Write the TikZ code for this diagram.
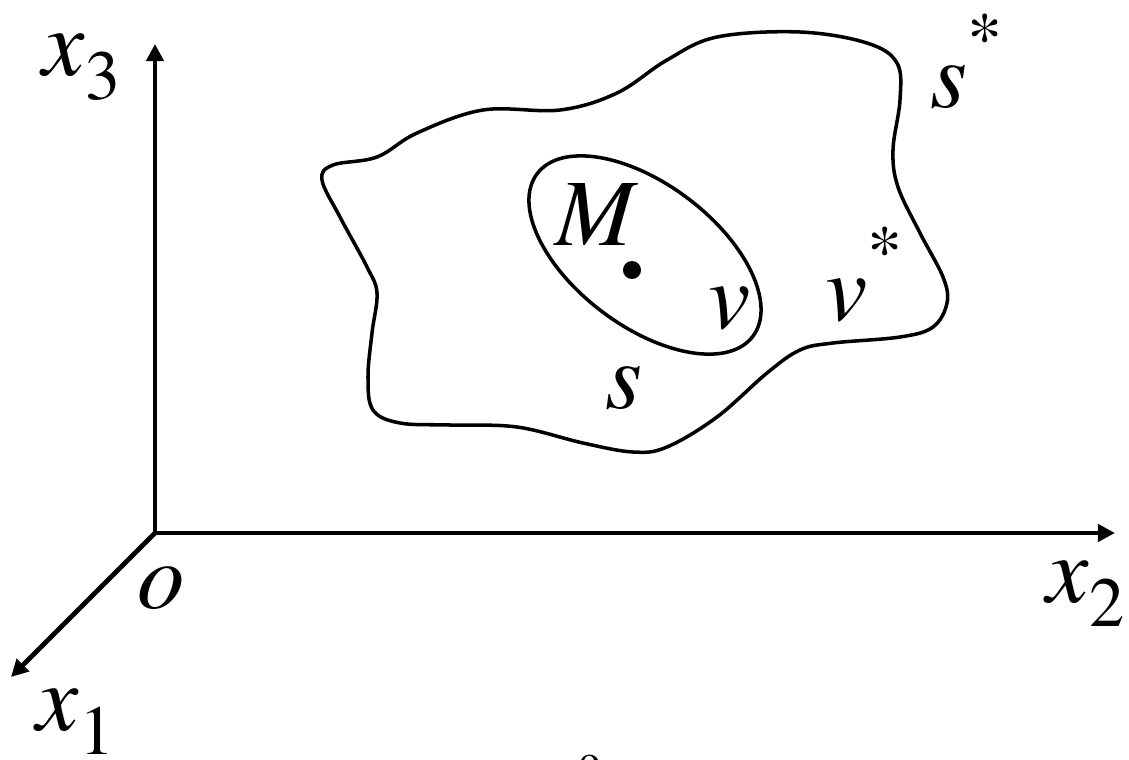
\documentclass[tikz,border=0pt]{standalone}
\usepackage{fontspec}
\IfFontExistsTF{texgyretermes-regular.otf}
  {\setmainfont{texgyretermes}[Extension=.otf,UprightFont=*-regular,ItalicFont=*-italic,BoldFont=*-bold]}
  {\setmainfont{Liberation Serif}[AutoFakeSlant=0.2]}
\usetikzlibrary{arrows.meta}
\newcommand{\sublab}[2]{\textit{#1}\raisebox{-0.26em}{\fontsize{20}{20}\selectfont #2}}
\newcommand{\starlab}[1]{\textit{#1}\raisebox{0.48em}{\fontsize{20}{20}\selectfont *}}
\tikzset{
  axis/.style={line width=1.4pt,-{Triangle[length=0.17cm,width=0.17cm]}},
  contour/.style={line width=1pt},
  lab/.style={inner sep=0pt,anchor=base west,font=\fontsize{27}{30}\selectfont}
}
\begin{document}
\begin{tikzpicture}[x=0.01cm,y=-0.01cm]
    \useasboundingbox (0,0) rectangle (1129,760);
    % ---- axes ----
    \coordinate (O) at (155,533);
    \coordinate (e1) at (11,677);
    \coordinate (e2) at (1115,533);
    \coordinate (e3) at (155,44);
    \draw[axis] (O) -- (e1);
    \draw[axis] (O) -- (e2);
    \draw[axis] (O) -- (e3);
    \node[lab] (x3) at (42,75) {\sublab{x}{3}};
    \node[lab] (x2) at (1046,602) {\sublab{x}{2}};
    \node[lab] (x1) at (36,730) {\sublab{x}{1}};
    \node[lab] (o) at (137,608) {\textit{o}};
    % ---- body v* with surface s* ----
    \draw[contour] plot[smooth cycle,tension=0.6] coordinates {
      (322,180) (333,165) (377,157) (417,133) (483,110) (560,110)
      (617,93) (667,60) (717,37) (800,32) (867,43) (897,63) (900,100)
      (893,150) (898,187) (920,233) (943,277) (947,303) (933,327)
      (900,337) (833,343) (800,350) (767,373) (717,417) (667,447)
      (633,452) (583,443) (517,427) (450,425) (400,423) (373,410)
      (368,377) (372,333) (377,293) (367,267) (340,217)};
    % ---- sub-volume v with surface s ----
    \draw[contour,rotate around={-37:(645,255)}] (645,255) ellipse [x radius=1.35cm,y radius=0.71cm];
    \node[circle,fill,inner sep=0pt,minimum size=0.18cm] (Mpt) at (632,270) {};
    \node[lab] (M) at (555,245) {\textit{M}};
    \node[lab] (v) at (708,328) {\textit{v}};
    \node[lab] (s) at (605,408) {\textit{s}};
    \node[lab] (vstar) at (825,320) {\starlab{v}};
    \node[lab] (sstar) at (930,107) {\starlab{s}};
    \node[inner sep=0pt,anchor=north,font=\fontsize{12}{12}\selectfont] (cut) at (590,754) {o};
\end{tikzpicture}
\end{document}
